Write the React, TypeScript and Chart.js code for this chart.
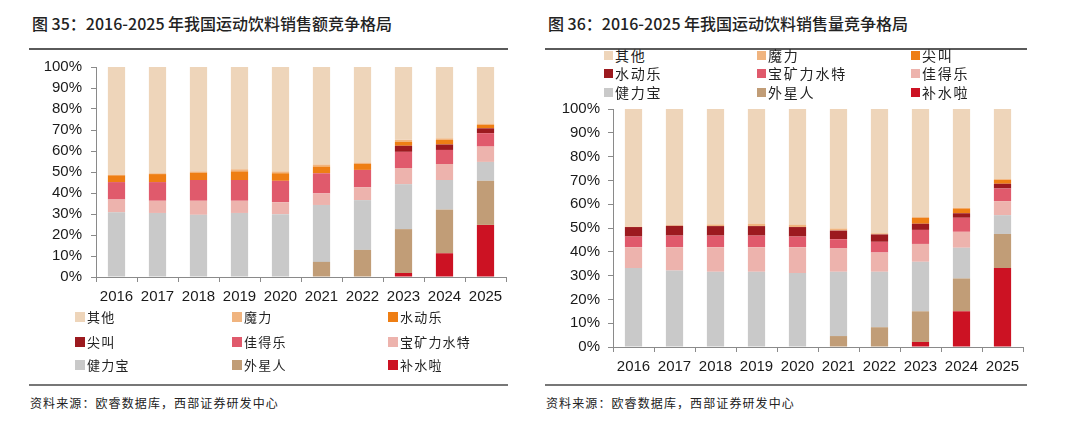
import React, { useEffect, useRef } from "react";
import { Chart, registerables } from "chart.js";

Chart.register(...registerables);

// ---------- shared ----------
const years = ["2016", "2017", "2018", "2019", "2020", "2021", "2022", "2023", "2024", "2025"];

// ---------- 图35 销售额 (legend order) ----------
const amtNames = ["其他", "魔力", "水动乐", "尖叫", "佳得乐", "宝矿力水特", "健力宝", "外星人", "补水啦"];
const amtOther = [51.3, 50.6, 49.7, 48.7, 49.7, 46.5, 45.5, 34.7, 34.0, 27.0];
const amtMoli = [0.3, 0.4, 0.6, 1.0, 0.9, 0.9, 0.7, 0.9, 0.7, 0.6];
const amtShuidongle = [3.2, 3.8, 3.5, 4.1, 3.6, 3.2, 2.8, 1.9, 2.2, 1.6];
const amtJianjiao = [0, 0, 0, 0, 0, 0, 0, 2.9, 2.6, 2.3];
const amtJiadele = [8.3, 8.9, 9.9, 9.9, 10.2, 9.6, 8.3, 7.7, 6.7, 6.4];
const amtBaokuangli = [6.1, 5.8, 6.7, 5.8, 5.7, 5.5, 6.1, 7.7, 7.6, 7.3];
const amtJianlibao = [30.8, 30.5, 29.6, 30.5, 29.9, 27.1, 23.7, 21.4, 14.1, 9.0];
const amtWaixingren = [0, 0, 0, 0, 0, 7.2, 12.9, 20.9, 20.8, 21.0];
const amtBushuila = [0, 0, 0, 0, 0, 0, 0, 1.9, 11.3, 24.8];
const amtSeries = [amtOther, amtMoli, amtShuidongle, amtJianjiao, amtJiadele, amtBaokuangli, amtJianlibao, amtWaixingren, amtBushuila];

// ---------- 图36 销售量 (legend order) ----------
const volNames = ["其他", "魔力", "尖叫", "水动乐", "宝矿力水特", "佳得乐", "健力宝", "外星人", "补水啦"];
const volOther = [49.4, 48.8, 48.5, 48.2, 48.7, 50.2, 52.2, 45.4, 41.5, 29.5];
const volMoli = [0.2, 0.3, 0.7, 1.0, 0.9, 0.9, 0.5, 0.3, 0.3, 0.2];
const volJianjiao = [0, 0, 0, 0, 0, 0, 0, 2.5, 2.0, 1.7];
const volShuidongle = [4.0, 4.1, 4.0, 4.0, 4.0, 3.6, 3.1, 2.6, 1.9, 2.0];
const volBaokuangli = [4.5, 4.9, 4.9, 4.9, 4.5, 3.9, 4.5, 5.9, 5.9, 5.3];
const volJiadele = [8.7, 9.8, 10.3, 10.3, 10.8, 9.8, 8.1, 7.5, 6.7, 5.9];
const volJianlibao = [33.2, 32.1, 31.6, 31.6, 31.1, 27.0, 23.3, 20.8, 12.9, 7.9];
const volWaixingren = [0, 0, 0, 0, 0, 4.6, 8.3, 12.9, 13.8, 14.3];
const volBushuila = [0, 0, 0, 0, 0, 0, 0, 2.1, 15.0, 33.2];
const volSeries = [volOther, volMoli, volJianjiao, volShuidongle, volBaokuangli, volJiadele, volJianlibao, volWaixingren, volBushuila];

// colours by legend position
const palette = ["#EED5BA", "#F0B47F", "#EE7E14", "#9C1A1F", "#E05A6C", "#EDB3AD", "#C9C9C9", "#C19D77", "#CC1223"];

const AXIS = "#8a8a8a";
const LABEL_FONT = "'Liberation Sans', Arial, sans-serif";
const CJK = "'Noto Sans CJK SC', 'Noto Sans', sans-serif";

type ChartProps = {
  names: string[];
  series: number[][];
  left: number;
  top: number;
  width: number;
  height: number;
  yAxisWidth: number;
  xAxisHeight: number;
  padRight: number;
  yPad: number;
};

function StackChart(p: ChartProps) {
  const ref = useRef<HTMLCanvasElement | null>(null);
  useEffect(() => {
    if (!ref.current) return;
    const datasets = p.names
      .map((name, i) => ({
        label: name,
        data: p.series[i],
        backgroundColor: palette[i],
        borderWidth: 0,
        categoryPercentage: 1,
        barPercentage: 0.42,
      }))
      .reverse();
    const chart = new Chart(ref.current, {
      type: "bar",
      data: { labels: years, datasets },
      options: {
        animation: false,
        responsive: false,
        devicePixelRatio: 1,
        layout: { padding: { top: 0, right: p.padRight, left: 0, bottom: 0 } },
        plugins: { legend: { display: false }, tooltip: { enabled: false } },
        scales: {
          x: {
            stacked: true,
            afterFit: (s: any) => {
              s.height = p.xAxisHeight;
            },
            border: { display: true, color: AXIS, width: 1 },
            grid: { display: true, drawOnChartArea: false, drawTicks: true, tickLength: 5, color: AXIS, offset: true },
            ticks: { color: "#1a1a1a", font: { family: LABEL_FONT, size: 15 }, padding: 6, maxRotation: 0, autoSkip: false },
          },
          y: {
            stacked: true,
            min: 0,
            max: 100,
            afterFit: (s: any) => {
              s.width = p.yAxisWidth;
            },
            border: { display: true, color: AXIS, width: 1 },
            grid: { display: true, drawOnChartArea: false, drawTicks: true, tickLength: 5, color: AXIS },
            ticks: {
              stepSize: 10,
              autoSkip: false,
              color: "#1a1a1a",
              font: { family: LABEL_FONT, size: 15 },
              padding: p.yPad,
              callback: (v: any) => v + "%",
            },
          },
        },
      },
    });
    return () => chart.destroy();
  }, []);
  return (
    <canvas
      ref={ref}
      width={p.width}
      height={p.height}
      style={{ position: "absolute", left: p.left, top: p.top, width: p.width, height: p.height }}
    />
  );
}

type LegendProps = {
  names: string[];
  cols: number[];
  rows: number[];
  box: number;
  fontSize: number;
  spacing: number;
};

function Legend(p: LegendProps) {
  return (
    <>
      {p.names.map((n, i) => {
        const x = p.cols[i % 3];
        const y = p.rows[Math.floor(i / 3)];
        return (
          <div
            key={n}
            style={{
              position: "absolute",
              left: x,
              top: y - 10,
              height: 20,
              display: "flex",
              alignItems: "center",
              whiteSpace: "nowrap",
            }}
          >
            <span style={{ display: "inline-block", width: p.box, height: p.box, background: palette[i], marginRight: 2 }} />
            <span style={{ fontFamily: CJK, fontSize: p.fontSize, letterSpacing: p.spacing, color: "#222", lineHeight: "20px" }}>{n}</span>
          </div>
        );
      })}
    </>
  );
}

function Panel(props: { x: number; lineW: number; title: string }) {
  return (
    <>
      <div
        style={{
          position: "absolute",
          left: props.x + 3,
          top: 11,
          fontFamily: CJK,
          fontSize: 16,
          fontWeight: 500,
          color: "#222",
          whiteSpace: "nowrap",
          lineHeight: "24px",
          letterSpacing: 0,
        }}
      >
        {props.title}
      </div>
      <div style={{ position: "absolute", left: props.x, top: 48, width: props.lineW, height: 2, background: "#5a5a5a" }} />
      <div style={{ position: "absolute", left: props.x, top: 384, width: props.lineW, height: 2, background: "#777" }} />
      <div
        style={{
          position: "absolute",
          left: props.x + 1,
          top: 393,
          fontFamily: CJK,
          fontSize: 12,
          letterSpacing: 1.1,
          color: "#222",
          whiteSpace: "nowrap",
          lineHeight: "20px",
        }}
      >
        资料来源：欧睿数据库，西部证券研发中心
      </div>
    </>
  );
}

export default function App() {
  return (
    <div style={{ position: "fixed", left: 0, top: 0, width: 1080, height: 431, background: "#fff", overflow: "hidden" }}>
      <Panel x={29} lineW={479} title="图 35：2016-2025 年我国运动饮料销售额竞争格局" />
      <Panel x={545} lineW={482} title="图 36：2016-2025 年我国运动饮料销售量竞争格局" />
      <StackChart
        names={amtNames}
        series={amtSeries}
        left={28}
        top={49}
        width={490}
        height={262}
        yAxisWidth={68}
        xAxisHeight={34}
        padRight={12}
        yPad={9}
      />
      <Legend names={amtNames} cols={[75, 232, 388]} rows={[317, 342, 365]} box={10} fontSize={13} spacing={1.2} />
      <StackChart
        names={volNames}
        series={volSeries}
        left={545}
        top={92}
        width={490}
        height={288}
        yAxisWidth={68}
        xAxisHeight={33}
        padRight={12}
        yPad={8}
      />
      <Legend names={volNames} cols={[604, 757, 911]} rows={[55, 73, 92]} box={9} fontSize={14} spacing={1.8} />
    </div>
  );
}
